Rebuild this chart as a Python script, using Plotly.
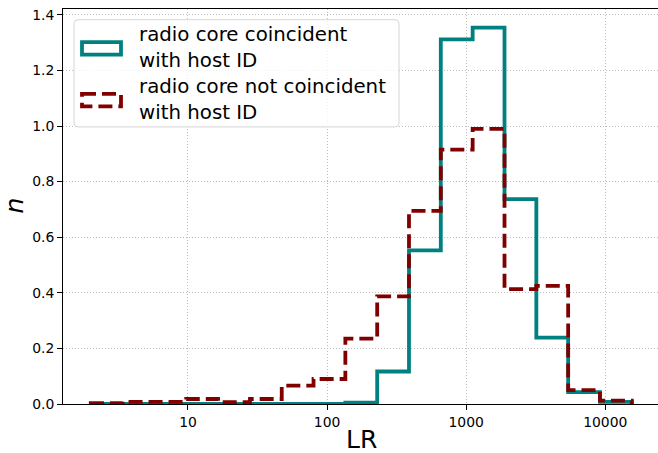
import plotly.graph_objects as go

# ---- data ----
bin_edges = [2.0, 3.39, 5.74, 9.71, 16.45, 27.9, 47.2, 79.9, 135.3, 229.2,
             388.0, 657.0, 1113.0, 1886.0, 3194.0, 5408.0, 9158.0, 15510.0]
coincident = [0, 0, 0, 0, 0, 0, 0, 0, 0.005, 0.117, 0.553, 1.312, 1.354,
              0.737, 0.239, 0.043, 0.008]
not_coincident = [0.003, 0.008, 0.008, 0.018, 0.007, 0.018, 0.066, 0.09,
                  0.235, 0.387, 0.695, 0.915, 0.99, 0.413, 0.425, 0.05, 0.012]
series_names = ["radio core coincident<br>with host ID",
                "radio core not coincident<br>with host ID"]
x_tick_vals = [10, 100, 1000, 10000]
x_tick_text = ["10", "100", "1000", "10000"]
y_tick_vals = [0.0, 0.2, 0.4, 0.6, 0.8, 1.0, 1.2, 1.4]

TEAL = "#008080"
MAROON = "#800000"
FONT = "DejaVu Sans"

W, H = 658, 453
L, R, T, B = 63, 0, 9.3, 48.5
PW, PH = W - L - R, H - T - B


def px(xp):
    return (xp - L) / PW


def py(yp):
    return (H - B - yp) / PH


def step_xy(edges, vals):
    xs = [edges[0]] + list(edges[:-1]) + [edges[-1]]
    ys = [0] + list(vals) + [0]
    return xs, ys


fig = go.Figure()
x1, y1 = step_xy(bin_edges, coincident)
fig.add_trace(go.Scatter(x=x1, y=y1, mode="lines", line_shape="hv",
                         line=dict(color=TEAL, width=3.8),
                         name=series_names[0], showlegend=False))
x2, y2 = step_xy(bin_edges, not_coincident)
fig.add_trace(go.Scatter(x=x2, y=y2, mode="lines", line_shape="hv",
                         line=dict(color=MAROON, width=3.8, dash="14px,6px"),
                         name=series_names[1], showlegend=False))

shapes = []
annotations = []

# legend frame (rounded)
lx0, lx1, ly0, ly1, rr = 74, 399, 20, 127.3, 4
path = (f"M {px(lx0+rr)},{py(ly0)} L {px(lx1-rr)},{py(ly0)} "
        f"Q {px(lx1)},{py(ly0)} {px(lx1)},{py(ly0+rr)} "
        f"L {px(lx1)},{py(ly1-rr)} Q {px(lx1)},{py(ly1)} {px(lx1-rr)},{py(ly1)} "
        f"L {px(lx0+rr)},{py(ly1)} Q {px(lx0)},{py(ly1)} {px(lx0)},{py(ly1-rr)} "
        f"L {px(lx0)},{py(ly0+rr)} Q {px(lx0)},{py(ly0)} {px(lx0+rr)},{py(ly0)} Z")
shapes.append(dict(type="path", xref="paper", yref="paper", path=path,
                   fillcolor="rgba(255,255,255,0.8)",
                   line=dict(color="#d5d5d5", width=1), layer="above"))
# legend handles
for (yc, col, dash) in [(48.7, TEAL, "solid"), (100.5, MAROON, "14px,6px")]:
    shapes.append(dict(type="rect", xref="paper", yref="paper",
                       x0=px(82), x1=px(121), y0=py(yc - 6.2), y1=py(yc + 6.2),
                       line=dict(color=col, width=3.8, dash=dash),
                       fillcolor="rgba(0,0,0,0)", layer="above"))
for yc, name in [(48.3, series_names[0]), (99.8, series_names[1])]:
    annotations.append(dict(xref="paper", yref="paper", x=px(137), y=py(yc),
                            xanchor="left", yanchor="middle", align="left",
                            text=name, showarrow=False,
                            font=dict(family=FONT, size=19.8, color="black")))
# axis titles
annotations.append(dict(xref="paper", yref="paper", x=px(361), y=py(440),
                        xanchor="center", yanchor="middle", text="LR",
                        showarrow=False,
                        font=dict(family=FONT, size=25, color="black")))
annotations.append(dict(xref="paper", yref="paper", x=px(15), y=py(206),
                        xanchor="center", yanchor="middle", text="<i>n</i>",
                        textangle=-90, showarrow=False,
                        font=dict(family=FONT, size=25, color="black")))

grid_style = dict(showgrid=True, gridcolor="#bdbdbd", gridwidth=1,
                  griddash="1px,2px", zeroline=False)

fig.update_layout(
    width=W, height=H,
    margin=dict(l=L, r=R, t=T, b=B, pad=0),
    paper_bgcolor="white", plot_bgcolor="white",
    font=dict(family=FONT, size=13.9, color="black"),
    shapes=shapes, annotations=annotations,
    showlegend=False,
)
fig.update_xaxes(type="log", range=[0.1014, 4.379],
                 tickvals=x_tick_vals, ticktext=x_tick_text,
                 ticks="outside", ticklen=5, tickwidth=1, tickcolor="black",
                 showline=True, linecolor="black", linewidth=1, mirror=True,
                 tickfont=dict(family=FONT, size=13.9, color="black"),
                 **grid_style)
fig.update_yaxes(range=[0, 1.421], tickvals=y_tick_vals, tickformat=".1f",
                 ticks="outside", ticklen=5, tickwidth=1, tickcolor="black",
                 showline=True, linecolor="black", linewidth=1, mirror=False,
                 tickfont=dict(family=FONT, size=13.9, color="black"),
                 **grid_style)

fig.write_html("out.html")
